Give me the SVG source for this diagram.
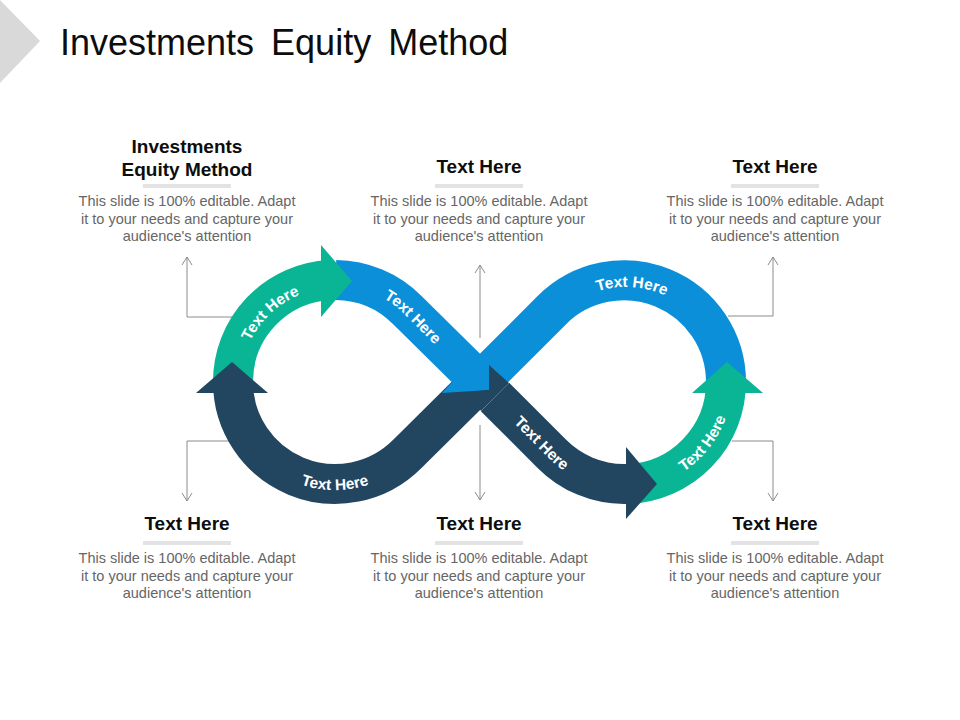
<svg xmlns="http://www.w3.org/2000/svg" width="960" height="720" viewBox="0 0 960 720">
<style>
text{font-family:"Liberation Sans",Arial,sans-serif}
.title{font-size:36px;fill:#0d0d0d;word-spacing:7px}
.head{font-size:19px;font-weight:bold;fill:#0d0d0d;text-anchor:middle}
.body{font-size:14.5px;fill:#666;text-anchor:middle}
.bar{fill:#e3e3e3}
.band{fill:none;stroke-width:40}
.g{stroke:#0ab595}.b{stroke:#0a8fd8}.d{stroke:#22465f}
.gf{fill:#0ab595}.bf{fill:#0a8fd8}.df{fill:#22465f}
.lab{font-size:15.5px;font-weight:bold;fill:#fff;text-anchor:middle}
.lead{fill:none;stroke:#8c8c8c;stroke-width:1;marker-end:url(#open)}
</style>
<defs>
<marker id="open" markerUnits="userSpaceOnUse" markerWidth="14" markerHeight="14" refX="10" refY="6" orient="auto">
<path d="M2 1 L10 6 L2 11" fill="none" stroke="#8c8c8c" stroke-width="1"/>
</marker>
<path id="p1" d="M241 379 A94 94 0 0 1 338 288"/>
<path id="p2" d="M371.8 292.3 A97 97 0 0 1 403.6 313.4 L444 354"/>
<path id="p3" d="M578.5 299.7 A95 95 0 0 1 683.2 306.1"/>
<path id="p4" d="M273 470.5 A108 108 0 0 0 397 470.5"/>
<path id="p5" d="M493 402 L548.3 457.7 A107 107 0 0 0 589.4 483.5"/>
<path id="p6" d="M661 483 A108 108 0 0 0 731.4 393"/>
</defs>
<rect width="960" height="720" fill="#fff"/>
<polygon points="0,0 40,41 0,83" fill="#d9d9d9"/>
<text class="title" x="60" y="55">Investments Equity Method</text>

<g id="connectors">
<path class="lead" d="M232 317 H187 V257"/>
<path class="lead" d="M230 441 H187 V501"/>
<path class="lead" d="M480 338 V265"/>
<path class="lead" d="M480 425 V500"/>
<path class="lead" d="M728 316 H773 V257"/>
<path class="lead" d="M732 441 H773 V501"/>
</g>

<g id="infinity">
<path class="band g" d="M233 382 A102 102 0 0 1 330 280"/>
<path class="band d" d="M233 382 A102 102 0 0 0 407.1 454.1 L490 372"/>
<path class="band b" d="M336 280 A102 102 0 0 1 407.1 309.9 L469 371"/>
<path class="band b" d="M482 380 L552 310 A102 102 0 0 1 726 382"/>
<polygon class="bf" points="452,382 442,393 489,390 489,365 480,355"/>
<path class="band g" d="M726 382 A102 102 0 0 1 628 484"/>
<path class="band d" d="M495 397 L552 454 A102 102 0 0 0 624 484 L628 484"/>
<polygon class="df" points="489,365 489,390 470,392 481,411 509,383"/>
<polygon class="gf" points="321,245 352,281 321,317"/>
<polygon class="df" points="232,362 268,393 196,393"/>
<polygon class="gf" points="727,362 763,393 692,393"/>
<polygon class="df" points="626,447 657,484 626,519"/>
<text class="lab"><textPath href="#p1" startOffset="50%">Text Here</textPath></text>
<text class="lab"><textPath href="#p2" startOffset="50%">Text Here</textPath></text>
<text class="lab"><textPath href="#p3" startOffset="50%">Text Here</textPath></text>
<text class="lab"><textPath href="#p4" startOffset="50%">Text Here</textPath></text>
<text class="lab"><textPath href="#p5" startOffset="50%">Text Here</textPath></text>
<text class="lab"><textPath href="#p6" startOffset="50%">Text Here</textPath></text>
</g>

<g id="node-top-left">
<text class="head" x="187" y="153">Investments</text>
<text class="head" x="187" y="176">Equity Method</text>
<rect class="bar" x="143" y="184" width="88" height="4"/>
<text class="body" x="187" y="206">This slide is 100% editable. Adapt</text>
<text class="body" x="187" y="224">it to your needs and capture your</text>
<text class="body" x="187" y="241">audience's attention</text>
</g>
<g id="node-top-center">
<text class="head" x="479" y="173">Text Here</text>
<rect class="bar" x="435" y="184" width="88" height="4"/>
<text class="body" x="479" y="206">This slide is 100% editable. Adapt</text>
<text class="body" x="479" y="224">it to your needs and capture your</text>
<text class="body" x="479" y="241">audience's attention</text>
</g>
<g id="node-top-right">
<text class="head" x="775" y="173">Text Here</text>
<rect class="bar" x="731" y="184" width="88" height="4"/>
<text class="body" x="775" y="206">This slide is 100% editable. Adapt</text>
<text class="body" x="775" y="224">it to your needs and capture your</text>
<text class="body" x="775" y="241">audience's attention</text>
</g>
<g id="node-bottom-left">
<text class="head" x="187" y="530">Text Here</text>
<rect class="bar" x="143" y="541" width="88" height="4"/>
<text class="body" x="187" y="563">This slide is 100% editable. Adapt</text>
<text class="body" x="187" y="581">it to your needs and capture your</text>
<text class="body" x="187" y="598">audience's attention</text>
</g>
<g id="node-bottom-center">
<text class="head" x="479" y="530">Text Here</text>
<rect class="bar" x="435" y="541" width="88" height="4"/>
<text class="body" x="479" y="563">This slide is 100% editable. Adapt</text>
<text class="body" x="479" y="581">it to your needs and capture your</text>
<text class="body" x="479" y="598">audience's attention</text>
</g>
<g id="node-bottom-right">
<text class="head" x="775" y="530">Text Here</text>
<rect class="bar" x="731" y="541" width="88" height="4"/>
<text class="body" x="775" y="563">This slide is 100% editable. Adapt</text>
<text class="body" x="775" y="581">it to your needs and capture your</text>
<text class="body" x="775" y="598">audience's attention</text>
</g>
</svg>
